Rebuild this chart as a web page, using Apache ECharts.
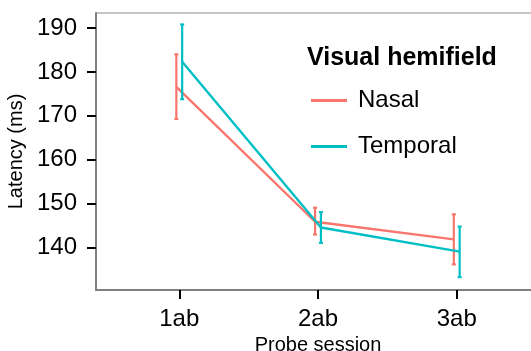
<!DOCTYPE html>
<html>
<head>
<meta charset="utf-8">
<script src="https://cdn.jsdelivr.net/npm/echarts@6/dist/echarts.min.js"></script>
<style>html,body{margin:0;padding:0;background:#fff;}#c{width:531px;height:351px;}</style>
</head>
<body>
<div id="c"></div>
<script>
var sessions = ['1ab', '2ab', '3ab'];
var nasalMean = [176.6, 145.9, 141.9];
var nasalLow = [169.3, 143.0, 136.2];
var nasalHigh = [184.0, 149.1, 147.6];
var temporalMean = [182.3, 144.6, 139.1];
var temporalLow = [173.8, 141.1, 133.3];
var temporalHigh = [190.8, 148.1, 144.8];
var yTicks = [140, 150, 160, 170, 180, 190];

var NASAL = '#F8766D', TEMP = '#00BFC4';
var dodge = 0.021;
var FONT = 'Liberation Sans, Arial, Helvetica, sans-serif';

function linePts(mean, off) {
  return mean.map(function (v, i) { return [i + off, v]; });
}
function barPts(lo, hi, off) {
  return lo.map(function (v, i) { return [i + off, v, hi[i]]; });
}
function errRender(color) {
  return function (params, api) {
    var x = api.value(0);
    var p1 = api.coord([x, api.value(1)]);
    var p2 = api.coord([x, api.value(2)]);
    var cw = 2;
    var st = { stroke: color, lineWidth: 2.2 };
    return {
      type: 'group',
      children: [
        { type: 'line', shape: { x1: p1[0], y1: p1[1], x2: p2[0], y2: p2[1] }, style: st },
        { type: 'line', shape: { x1: p1[0] - cw, y1: p1[1], x2: p1[0] + cw, y2: p1[1] }, style: st },
        { type: 'line', shape: { x1: p2[0] - cw, y1: p2[1], x2: p2[0] + cw, y2: p2[1] }, style: st }
      ]
    };
  };
}

var chart = echarts.init(document.getElementById('c'), null, { renderer: 'canvas' });
chart.setOption({
  animation: false,
  backgroundColor: '#fff',
  textStyle: { fontFamily: FONT },
  title: {
    text: 'Visual hemifield',
    left: 307, top: 46,
    padding: 0,
    textStyle: { fontFamily: FONT, fontWeight: 'bold', fontSize: 25, color: '#000' }
  },
  legend: {
    orient: 'vertical',
    left: 311, top: 88,
    padding: 0,
    itemWidth: 36, itemHeight: 3,
    itemGap: 21,
    icon: 'rect',
    data: [{ name: 'Nasal', itemStyle: { color: NASAL } }, { name: 'Temporal', itemStyle: { color: TEMP } }],
    textStyle: { fontFamily: FONT, fontSize: 24, color: '#000', padding: [0, 0, 0, 6], lineHeight: 25 }
  },
  grid: {
    left: 96, top: 13, bottom: 61, right: -9,
    show: true, borderColor: '#8c8c8c', borderWidth: 1, backgroundColor: '#fff',
    containLabel: false,
    outerBoundsMode: 'none'
  },
  xAxis: {
    type: 'value', min: -0.6, max: 2.6,
    name: 'Probe session', nameLocation: 'middle', nameGap: 43,
    nameTextStyle: { fontFamily: FONT, fontSize: 20, color: '#000' },
    axisLine: { show: true, onZero: false, lineStyle: { color: '#7f7f7f', width: 2 } },
    axisTick: { show: true, length: 9, lineStyle: { color: '#000', width: 2 }, customValues: [0, 1, 2] },
    axisLabel: {
      fontFamily: FONT, fontSize: 24, color: '#000', margin: 17,
      customValues: [0, 1, 2],
      formatter: function (v) { return sessions[Math.round(v)]; }
    },
    splitLine: { show: false }
  },
  yAxis: {
    type: 'value', min: 130.37, max: 193.41,
    name: 'Latency (ms)', nameLocation: 'middle', nameGap: 66,
    nameTextStyle: { fontFamily: FONT, fontSize: 20, color: '#000' },
    axisLine: { show: true, onZero: false, lineStyle: { color: '#7f7f7f', width: 2 } },
    axisTick: { show: true, length: 9, lineStyle: { color: '#000', width: 2 }, customValues: yTicks },
    axisLabel: { fontFamily: FONT, fontSize: 24, color: '#000', margin: 19, customValues: yTicks },
    splitLine: { show: false }
  },
  series: [
    { name: 'Nasal', type: 'line', data: linePts(nasalMean, -dodge), showSymbol: false, symbol: 'none',
      lineStyle: { color: NASAL, width: 2.4 }, itemStyle: { color: NASAL }, z: 3 },
    { name: 'Temporal', type: 'line', data: linePts(temporalMean, dodge), showSymbol: false, symbol: 'none',
      lineStyle: { color: TEMP, width: 2.4 }, itemStyle: { color: TEMP }, z: 4 },
    { name: 'NasalErr', type: 'custom', renderItem: errRender(NASAL), data: barPts(nasalLow, nasalHigh, -dodge),
      encode: { x: 0, y: [1, 2] }, z: 3 },
    { name: 'TemporalErr', type: 'custom', renderItem: errRender(TEMP), data: barPts(temporalLow, temporalHigh, dodge),
      encode: { x: 0, y: [1, 2] }, z: 4 }
  ]
});
</script>
</body>
</html>
